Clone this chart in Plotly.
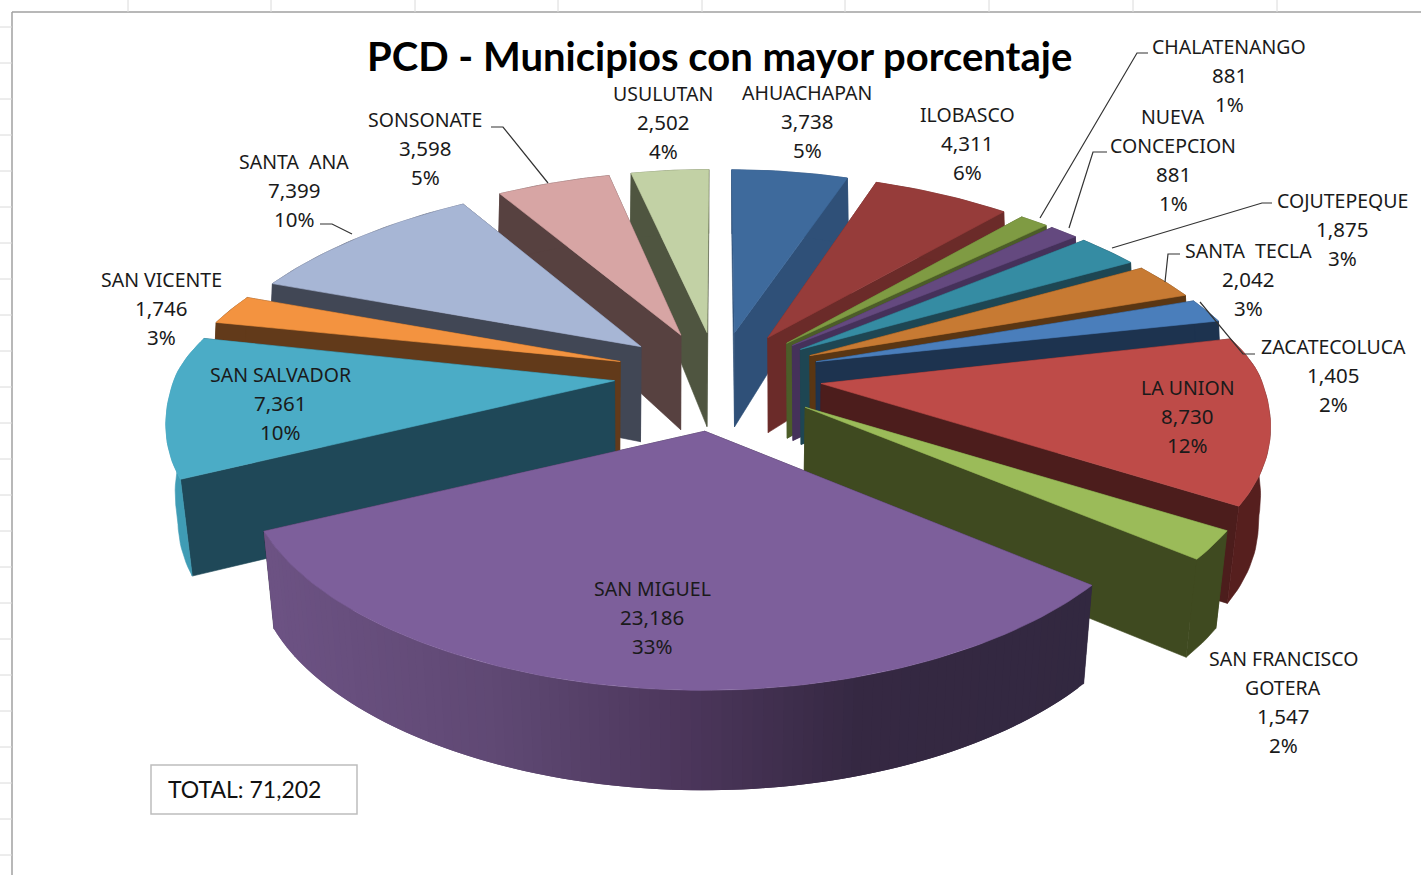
import math
import plotly.graph_objects as go

# ---------- data ----------
names = ["AHUACHAPAN", "ILOBASCO", "CHALATENANGO", "NUEVA CONCEPCION", "COJUTEPEQUE",
         "SANTA TECLA", "ZACATECOLUCA", "LA UNION", "SAN FRANCISCO GOTERA", "SAN MIGUEL",
         "SAN SALVADOR", "SAN VICENTE", "SANTA ANA", "SONSONATE", "USULUTAN"]
values = [3738, 4311, 881, 881, 1875, 2042, 1405, 8730, 1547, 23186, 7361, 1746, 7399, 3598, 2502]
percents = [5, 6, 1, 1, 3, 3, 2, 12, 2, 33, 10, 3, 10, 5, 4]
title_text = "PCD - Municipios con mayor porcentaje"
total_text = "TOTAL: 71,202"

# ---------- styles ----------
top_colors = ["#3E6A9C", "#963C3A", "#7F9B43", "#64497F", "#358CA3", "#C77A33", "#4A7EBB", "#BE4B48",
              "#9BBB59", "#7D5F9B", "#4BACC6", "#F39340", "#A7B6D5", "#D7A5A4", "#C2D1A5"]
wall_colors = ["#2F5078", "#6B2B29", "#4C5D28", "#45315A", "#1E4653", "#5A3613", "#1D334F", "#4C1D1C",
               "#3F4A20", "#30263F", "#1F4858", "#623A1A", "#414755", "#574140", "#4F5540"]
rim_colors = list(wall_colors)
rim_colors[10] = "#3F9CB5"
rim_colors[7] = "#561F1E"
gradient_slice = 9
gradient_stops = [(270, (0x6C, 0x52, 0x83)), (500, (0x5F, 0x48, 0x73)), (700, (0x4A, 0x35, 0x59)),
                  (860, (0x35, 0x28, 0x42)), (1100, (0x32, 0x28, 0x40))]

# label layout: (name lines, centre x, first line y)
label_lines = [
    (["AHUACHAPAN"], 807, 92), (["ILOBASCO"], 967, 114), (["CHALATENANGO"], 1229, 46),
    (["NUEVA", "CONCEPCION"], 1173, 116), (["COJUTEPEQUE"], 1342, 200),
    (["SANTA  TECLA"], 1248, 250), (["ZACATECOLUCA"], 1333, 346), (["LA UNION"], 1187, 387),
    (["SAN FRANCISCO", "GOTERA"], 1283, 658), (["SAN MIGUEL"], 652, 588),
    (["SAN SALVADOR"], 280, 374), (["SAN VICENTE"], 161, 279), (["SANTA  ANA"], 294, 161),
    (["SONSONATE"], 425, 119), (["USULUTAN"], 663, 93),
]
LINE_GAP = 29
leaders = [
    [(1148, 53), (1137, 53), (1040, 218)],
    [(1107, 152), (1093, 152), (1069, 228)],
    [(1272, 203), (1262, 203), (1112, 248)],
    [(1180, 254), (1168, 254), (1165, 282)],
    [(1255, 354), (1243, 354), (1200, 302)],
    [(491, 127), (503, 127), (548, 183)],
    [(320, 224), (332, 224), (352, 234)],
]

# ---------- projection of the exploded 3-D pie ----------
CX, CY = 718, 375
AX = 439
XA, XB = 0.16, 0.03
BOTTOM_SHRINK = 0.978
EXPLODE = 0.236


def height(v):
    return 95 + 4 * max(-v, 0) if v <= 0.2 else 95 - 30 * (v - 0.2)


def depth_to_y(v):
    s = 0.1
    y = (202.5 * v - 32.5 * math.sqrt(v * v + s * s) + 32.5 * s
         + 13 * min(v, 0) ** 3 - 4 * max(v, 0) ** 3)
    if v < 0:
        y -= 4 * (1 - math.exp(v / 0.1))
    return y


def bottom_scale(v):
    t = min(max((v + 0.2) / 0.3, 0), 1)
    return BOTTOM_SHRINK + 0.03 * t


def project(u, v, down):
    x = AX * u / (1 + XA * v + XB * v * v)
    x *= 1 - (1 - bottom_scale(v)) * down
    return CX + x, CY - depth_to_y(v) + down * height(v)


total = sum(values)
slices = []
running = 0
for i, val in enumerate(values):
    a0 = running / total * 2 * math.pi
    running += val
    a1 = running / total * 2 * math.pi
    slices.append((i, a0, a1, (a0 + a1) / 2))

fig = go.Figure()


def poly(points, color, width=0.6):
    xs = [p[0] for p in points] + [points[0][0]]
    ys = [p[1] for p in points] + [points[0][1]]
    fig.add_trace(go.Scatter(x=xs, y=ys, mode="lines", fill="toself", fillcolor=color,
                             line=dict(color=color, width=width), hoverinfo="skip", showlegend=False))


def grad_color(x):
    if x <= gradient_stops[0][0]:
        c = gradient_stops[0][1]
    elif x >= gradient_stops[-1][0]:
        c = gradient_stops[-1][1]
    else:
        for (x0, c0), (x1, c1) in zip(gradient_stops, gradient_stops[1:]):
            if x0 <= x <= x1:
                t = (x - x0) / (x1 - x0)
                c = tuple(c0[j] + (c1[j] - c0[j]) * t for j in range(3))
                break
    return "rgb(%d,%d,%d)" % tuple(round(q) for q in c)


for i, a0, a1, mid in sorted(slices, key=lambda s: -math.cos(s[3])):
    ou, ov = EXPLODE * math.sin(mid), EXPLODE * math.cos(mid)
    n = max(6, int((a1 - a0) / 0.02))
    angs = [a0 + (a1 - a0) * k / n for k in range(n + 1)]
    rim = [(ou + math.sin(a), ov + math.cos(a)) for a in angs]
    # radial walls, far one first
    walls = [rim[0], rim[-1]]
    walls.sort(key=lambda p: -p[1])
    for (u, v) in walls:
        poly([project(ou, ov, 0), project(u, v, 0), project(u, v, 1), project(ou, ov, 1)], wall_colors[i])
    # outer rim: one band, or overlapping strips for the shaded slice
    if i == gradient_slice:
        for k in range(n):
            seg = rim[k:k + 3]
            upper = [project(u, v, 0) for u, v in seg]
            lower = [project(u, v, 1) for u, v in reversed(seg)]
            col = grad_color((project(*rim[k], 0)[0] + project(*rim[k + 1], 0)[0]) / 2)
            poly(upper + lower, col, width=0)
    else:
        upper = [project(u, v, 0) for u, v in rim]
        lower = [project(u, v, 1) for u, v in reversed(rim)]
        poly(upper + lower, rim_colors[i])
    # top face
    poly([project(ou, ov, 0)] + [project(u, v, 0) for u, v in rim], top_colors[i])

# ---------- text ----------
annotations = []


def text(x, y, s, size=19.5, family="Noto Sans", color="#1A1A1A"):
    annotations.append(dict(x=x, y=y, xref="x", yref="y", text=s, showarrow=False,
                            xanchor="center", yanchor="middle",
                            font=dict(size=size, family=family, color=color)))


for (lines, x, y), val, pct in zip(label_lines, values, percents):
    rows = lines + [f"{val:,}", f"{pct}%"]
    for j, row in enumerate(rows):
        text(x, y + j * LINE_GAP, row, size=19.5 if j < len(lines) else 20.5)

text(719, 56, f"<b>{title_text}</b>", size=40, family="Lato", color="#000000")
text(244, 789, total_text, size=23, family="Lato", color="#111111")

# ---------- sheet frame, leaders, total box ----------
shapes = [
    dict(type="rect", x0=151, x1=357, y0=765, y1=814, line=dict(color="#BDBDBD", width=1.5)),
    dict(type="line", x0=12, x1=12, y0=12, y1=875, line=dict(color="#A0A0A0", width=1.5)),
    dict(type="line", x0=12, x1=1421, y0=12, y1=12, line=dict(color="#A0A0A0", width=1.5)),
]
for gx in [128, 271, 415, 558, 702, 845, 989, 1133, 1277]:
    shapes.append(dict(type="line", x0=gx, x1=gx, y0=0, y1=12, line=dict(color="#DADADA", width=1)))
for gy in range(27, 875, 36):
    shapes.append(dict(type="line", x0=0, x1=12, y0=gy, y1=gy, line=dict(color="#DADADA", width=1)))
for pts in leaders:
    path = "M " + " L ".join(f"{x},{y}" for x, y in pts)
    shapes.append(dict(type="path", path=path, line=dict(color="#333333", width=1.2)))

fig.update_layout(
    width=1421, height=875, margin=dict(l=0, r=0, t=0, b=0),
    paper_bgcolor="white", plot_bgcolor="white", showlegend=False,
    xaxis=dict(range=[0, 1421], visible=False, fixedrange=True),
    yaxis=dict(range=[875, 0], visible=False, fixedrange=True),
    annotations=annotations, shapes=shapes,
)
fig.write_html("out.html", post_script="document.body.style.margin='0';document.body.style.overflow='hidden';",
               config=dict(displayModeBar=False))
